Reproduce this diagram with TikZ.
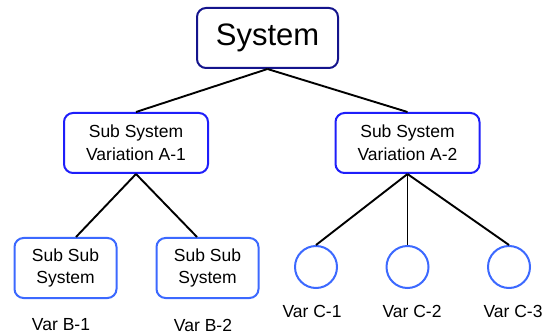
\documentclass[tikz,border=0pt]{standalone}
\usepackage{fontspec}
\setmainfont{Liberation Sans}
\usetikzlibrary{calc}
\definecolor{topblue}{RGB}{20,20,140}
\definecolor{midblue}{RGB}{30,30,250}
\definecolor{leafblue}{RGB}{60,105,255}
\tikzset{
  box/.style={draw, rounded corners=9pt, line width=2pt, inner sep=0pt, align=center,
              font=\fontsize{17.5}{23}\selectfont},
  topbox/.style={box, draw=topblue, minimum width=141pt, minimum height=60pt,
              font=\fontsize{31}{34}\selectfont},
  midbox/.style={box, draw=midblue, minimum width=144pt, minimum height=60pt},
  leafbox/.style={box, draw=leafblue, minimum width=102pt, minimum height=60pt,
              font=\fontsize{17.5}{22}\selectfont},
  leaf/.style={circle, draw=leafblue, line width=2pt, minimum size=42pt, inner sep=0pt},
  caption/.style={inner sep=0pt, font=\fontsize{17.5}{20}\selectfont},
  link/.style={line width=1.9pt, black}
}
\begin{document}
\begin{tikzpicture}[x=1pt, y=-1pt]
  \useasboundingbox (0,0) rectangle (545,336);

  % hierarchy nodes
  \node[topbox]  (sys) at (267.5,38) {System};
  \node[midbox]  (a1)  at (136,143)  {Sub System\\Variation A-1};
  \node[midbox]  (a2)  at (407.5,143) {Sub System\\Variation A-2};
  \node[leafbox] (b1)  at (65.5,268) {Sub Sub\\System};
  \node[leafbox] (b2)  at (207.5,268) {Sub Sub\\System};
  \node[leaf]    (c1)  at (316,267) {};
  \node[leaf]    (c2)  at (407.5,267) {};
  \node[leaf]    (c3)  at (509,267) {};

  % captions under the leaves
  \node[caption] (lb1) at (61,325)  {Var B-1};
  \node[caption] (lb2) at (203,325) {Var B-2};
  \node[caption] (lc1) at (312,311) {Var C-1};
  \node[caption] (lc2) at (412,311) {Var C-2};
  \node[caption] (lc3) at (513,311) {Var C-3};

  % connectors
  \draw[link] (sys.south) -- (a1.north);
  \draw[link] (sys.south) -- (a2.north);
  \draw[link] (a1.south) -- ($(b1.north)+(10.5,0)$);
  \draw[link] (a1.south) -- ($(b2.north)+(-10.5,0)$);
  \draw[link] (a2.south) -- (c1.north);
  \draw[link] (a2.south) -- (c2.north);
  \draw[link] (a2.south) -- (c3.north);
\end{tikzpicture}
\end{document}
